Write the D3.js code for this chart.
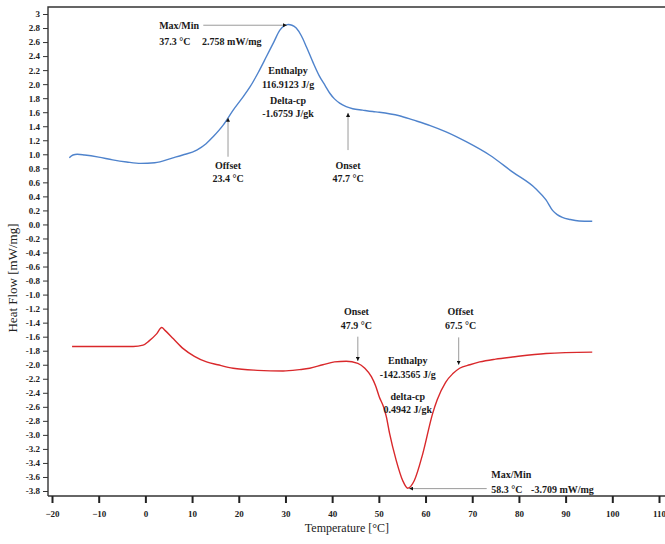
<!DOCTYPE html>
<html lang="en">

<head>
  <meta charset="UTF-8" />
  <title>DSC heat flow</title>
  <style>
    body {
      margin: 0;
      background: #fff;
    }

    #container {
      width: 665px;
      height: 544px;
    }

    text {
      font-family: "Liberation Serif", "Times New Roman", serif;
    }

    .tick text {
      font-size: 9px;
      font-weight: bold;
      fill: #222;
    }

    .ann {
      font-size: 10px;
      font-weight: bold;
      fill: #1a1a1a;
    }
  </style>
</head>

<body>
  <div id="container"></div>
  <script src="https://cdn.jsdelivr.net/npm/d3@7"></script>
  <script>
    // heating curve (blue)
    const blueTemp = [-16.3, -15.5, -14.6, -13, -10, -7, -4, -1, 2, 5.9, 8, 11, 13, 14.5, 16.7, 18.8, 20.6, 22.4, 24.2, 25.9, 27.5, 28.8, 29.7, 30.6, 31.4, 32.3, 33.4, 34.5, 35.9, 37.3, 38.5, 39.5, 40.5, 41.6, 43, 44.4, 46.5, 48.7, 50.1, 54.4, 57.3, 61, 64.4, 68.7, 73.7, 78.6, 83.6, 85.8, 87.2, 88.2, 89.3, 91, 92.9, 95.7];
    const blueFlow = [0.95, 0.99, 1.0, 0.99, 0.96, 0.92, 0.89, 0.87, 0.88, 0.95, 0.99, 1.06, 1.15, 1.25, 1.42, 1.63, 1.79, 1.96, 2.17, 2.39, 2.6, 2.77, 2.83, 2.85, 2.84, 2.8, 2.69, 2.53, 2.31, 2.11, 1.98, 1.87, 1.79, 1.73, 1.68, 1.65, 1.63, 1.61, 1.6, 1.55, 1.49, 1.41, 1.32, 1.18, 0.99, 0.75, 0.51, 0.35, 0.2, 0.14, 0.1, 0.07, 0.05, 0.045];

    // cooling curve (red)
    const redTemp = [-15.7, -9.7, -2.6, -0.5, 0.8, 2.4, 3.5, 4.2, 6, 8.1, 10.5, 13.1, 15.5, 18.8, 24, 29.5, 33, 35.2, 38, 40.5, 43, 45.5, 47, 48.4, 49.3, 50.1, 51, 51.6, 52.3, 53.7, 55.1, 56.2, 57.6, 59.4, 61.5, 62.5, 64.3, 65.8, 67.3, 69.5, 71.6, 75, 78.6, 85.8, 95.7];
    const redFlow = [-1.74, -1.74, -1.74, -1.72, -1.66, -1.56, -1.47, -1.51, -1.63, -1.77, -1.88, -1.96, -2.0, -2.05, -2.08, -2.09, -2.07, -2.05, -2.0, -1.96, -1.95, -1.98, -2.05, -2.17, -2.3, -2.46, -2.6, -2.74, -2.98, -3.36, -3.65, -3.76, -3.65, -3.27, -2.7, -2.5, -2.25, -2.13, -2.05, -2.0, -1.96, -1.92, -1.89, -1.84, -1.82];

    const xTicks = [-20, -10, 0, 10, 20, 30, 40, 50, 60, 70, 80, 90, 100, 110];
    const yTicks = ['3', '2.8', '2.6', '2.4', '2.2', '2.0', '1.8', '1.6', '1.4', '1.2', '1.0', '0.8', '0.6', '0.4', '0.2', '0.0',
      '-0.2', '-0.4', '-0.6', '-0.8', '-1.0', '-1.2', '-1.4', '-1.6', '-1.8', '-2.0', '-2.2', '-2.4', '-2.6', '-2.8',
      '-3.0', '-3.2', '-3.4', '-3.6', '-3.8'];

    // annotation texts, placed in data coordinates (temperature, heat flow)
    const labels = [
      { t: 2.95, v: 2.83, text: 'Max/Min', anchor: 'start' },
      { t: 2.95, v: 2.605, text: '37.3 °C', anchor: 'start' },
      { t: 12.15, v: 2.605, text: '2.758 mW/mg', anchor: 'start' },
      { t: 30.55, v: 2.19, text: 'Enthalpy', anchor: 'middle' },
      { t: 30.55, v: 2.0, text: '116.9123 J/g', anchor: 'middle' },
      { t: 30.55, v: 1.76, text: 'Delta-cp', anchor: 'middle' },
      { t: 30.55, v: 1.585, text: '-1.6759 J/gk', anchor: 'middle' },
      { t: 17.7, v: 0.836, text: 'Offset', anchor: 'middle' },
      { t: 17.7, v: 0.66, text: '23.4 °C', anchor: 'middle' },
      { t: 43.4, v: 0.836, text: 'Onset', anchor: 'middle' },
      { t: 43.4, v: 0.66, text: '47.7 °C', anchor: 'middle' },
      { t: 45.2, v: -1.247, text: 'Onset', anchor: 'middle' },
      { t: 45.2, v: -1.437, text: '47.9 °C', anchor: 'middle' },
      { t: 67.5, v: -1.247, text: 'Offset', anchor: 'middle' },
      { t: 67.5, v: -1.437, text: '67.5 °C', anchor: 'middle' },
      { t: 56.2, v: -1.936, text: 'Enthalpy', anchor: 'middle' },
      { t: 56.2, v: -2.135, text: '-142.3565 J/g', anchor: 'middle' },
      { t: 56.2, v: -2.449, text: 'delta-cp', anchor: 'middle' },
      { t: 56.2, v: -2.639, text: '0.4942 J/gk', anchor: 'middle' },
      { t: 74.1, v: -3.562, text: 'Max/Min', anchor: 'start' },
      { t: 74.1, v: -3.78, text: '58.3 °C', anchor: 'start' },
      { t: 82.6, v: -3.78, text: '-3.709 mW/mg', anchor: 'start' }
    ];

    // arrows: from (t1,v1) to tip (t2,v2)
    const arrows = [
      { t1: 12.4, v1: 2.84, t2: 30.3, v2: 2.84 },
      { t1: 17.7, v1: 0.965, t2: 17.7, v2: 1.52 },
      { t1: 43.4, v1: 1.06, t2: 43.4, v2: 1.59 },
      { t1: 45.5, v1: -1.6, t2: 45.5, v2: -1.946 },
      { t1: 67.1, v1: -1.61, t2: 67.1, v2: -2.0 },
      { t1: 73.1, v1: -3.766, t2: 56.5, v2: -3.766 }
    ];

    const W = 665, H = 544;
    const axisX = 48, topY = 7, axisY = 496;

    const svg = d3.select('#container').append('svg')
      .attr('width', W).attr('height', H);

    const x = d3.scaleLinear().domain([-20, 110]).range([52, 659]);
    const y = d3.scaleLinear().domain([-3.8, 3]).range([491, 14]);

    svg.append('defs').append('marker')
      .attr('id', 'head')
      .attr('viewBox', '0 0 10 10')
      .attr('refX', 10).attr('refY', 5)
      .attr('markerWidth', 4).attr('markerHeight', 4)
      .attr('markerUnits', 'userSpaceOnUse')
      .attr('orient', 'auto')
      .append('path').attr('d', 'M0,0L10,5L0,10Z').attr('fill', '#111');

    // frame
    svg.append('path')
      .attr('d', `M${axisX},${axisY}V${topY}H${W}`)
      .attr('fill', 'none').attr('stroke', '#333').attr('stroke-width', 1.4);
    svg.append('line')
      .attr('x1', axisX).attr('x2', W).attr('y1', axisY).attr('y2', axisY)
      .attr('stroke', '#333').attr('stroke-width', 1.4);

    // y axis
    const gy = svg.append('g')
      .attr('transform', `translate(${axisX},0)`)
      .call(d3.axisLeft(y).tickValues(yTicks.map(Number)).tickSize(5).tickPadding(3)
        .tickFormat((d, i) => yTicks[i]));
    gy.select('.domain').remove();
    gy.selectAll('.tick line').attr('stroke', '#333');

    // x axis
    const gx = svg.append('g')
      .attr('transform', `translate(0,${axisY})`)
      .call(d3.axisBottom(x).tickValues(xTicks).tickSize(7).tickPadding(8));
    gx.select('.domain').remove();
    gx.selectAll('.tick line').attr('stroke', '#222').attr('stroke-width', 2);

    // axis titles
    svg.append('text')
      .attr('x', 347).attr('y', 532)
      .attr('text-anchor', 'middle')
      .attr('font-size', 12)
      .attr('fill', '#222')
      .text('Temperature [°C]');
    svg.append('text')
      .attr('transform', 'translate(17,278) rotate(-90)')
      .attr('text-anchor', 'middle')
      .attr('font-size', 13)
      .attr('fill', '#222')
      .text('Heat Flow [mW/mg]');

    const line = d3.line()
      .x(d => x(d[0]))
      .y(d => y(d[1]))
      .curve(d3.curveMonotoneX);

    svg.append('path')
      .datum(d3.zip(blueTemp, blueFlow))
      .attr('d', line)
      .attr('fill', 'none')
      .attr('stroke', '#4f83cc')
      .attr('stroke-width', 1.4);

    svg.append('path')
      .datum(d3.zip(redTemp, redFlow))
      .attr('d', line)
      .attr('fill', 'none')
      .attr('stroke', '#d9282b')
      .attr('stroke-width', 1.4);

    svg.selectAll('.arrow')
      .data(arrows)
      .enter()
      .append('line')
      .attr('class', 'arrow')
      .attr('x1', d => x(d.t1)).attr('y1', d => y(d.v1))
      .attr('x2', d => x(d.t2)).attr('y2', d => y(d.v2))
      .attr('stroke', '#9a9a9a')
      .attr('stroke-width', 1)
      .attr('marker-end', 'url(#head)');

    svg.selectAll('.ann')
      .data(labels)
      .enter()
      .append('text')
      .attr('class', 'ann')
      .attr('x', d => x(d.t))
      .attr('y', d => y(d.v))
      .attr('dy', '0.35em')
      .attr('text-anchor', d => d.anchor)
      .text(d => d.text);
  </script>
</body>

</html>
